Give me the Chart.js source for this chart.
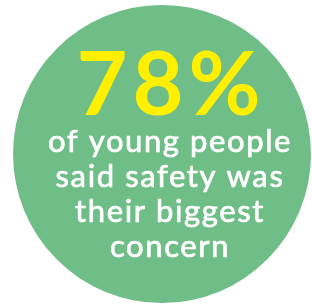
<!DOCTYPE html>
<html>
<head>
<meta charset="utf-8">
<script src="https://cdn.jsdelivr.net/npm/chart.js@4"></script>
<style>
    html, body { margin: 0; padding: 0; background: #ffffff; }
    #wrap { width: 312px; height: 306px; }
</style>
</head>
<body>
<div id="wrap"><canvas id="statChart"></canvas></div>
<script>
/**=================
 * Data
 =================*/
const categories = ['Young people'];
const circleValues = [100];
const statValues = [78];
const captionLines = ['of young people', 'said safety was', 'their biggest', 'concern'];

/**=================
 * Big number + caption plugin
 =================*/
const statText = {
    id: 'statText',
    afterDraw(chart) {
        const ctx = chart.ctx;
        const arc = chart.getDatasetMeta(0).data[0];
        const cx = arc.x + 7;
        const cy = arc.y;

        ctx.save();
        ctx.textAlign = 'center';
        ctx.textBaseline = 'alphabetic';

        ctx.fillStyle = '#fff000';
        ctx.font = '700 88px Lato';
        ctx.letterSpacing = '5px';
        ctx.fillText(statValues[0] + '%', cx + 2, cy - 39);

        // caption, slightly heavier than regular
        ctx.fillStyle = '#ffffff';
        ctx.strokeStyle = '#ffffff';
        ctx.lineWidth = 0.7;
        ctx.font = '400 31px Lato';
        ctx.letterSpacing = '1.6px';
        captionLines.forEach((line, i) => {
            ctx.fillText(line, cx + 1, cy - 2 + i * 35);
            ctx.strokeText(line, cx + 1, cy - 2 + i * 35);
        });
        ctx.restore();
    }
};

/**=================
 * Circle chart
 =================*/
const statCtx = document.getElementById('statChart');
const statChart = new Chart(statCtx, {
    type: 'pie',
    data: {
        labels: categories,
        datasets: [{
            data: circleValues,
            backgroundColor: '#6fbd87',
            borderWidth: 0
        }]
    },
    options: {
        responsive: true,
        maintainAspectRatio: false,
        animation: false,
        layout: {
            padding: { left: 13, right: 1, top: 5, bottom: 3 }
        },
        plugins: {
            legend: { display: false },
            tooltip: { enabled: false }
        }
    },
    plugins: [statText]
});
</script>
</body>
</html>
